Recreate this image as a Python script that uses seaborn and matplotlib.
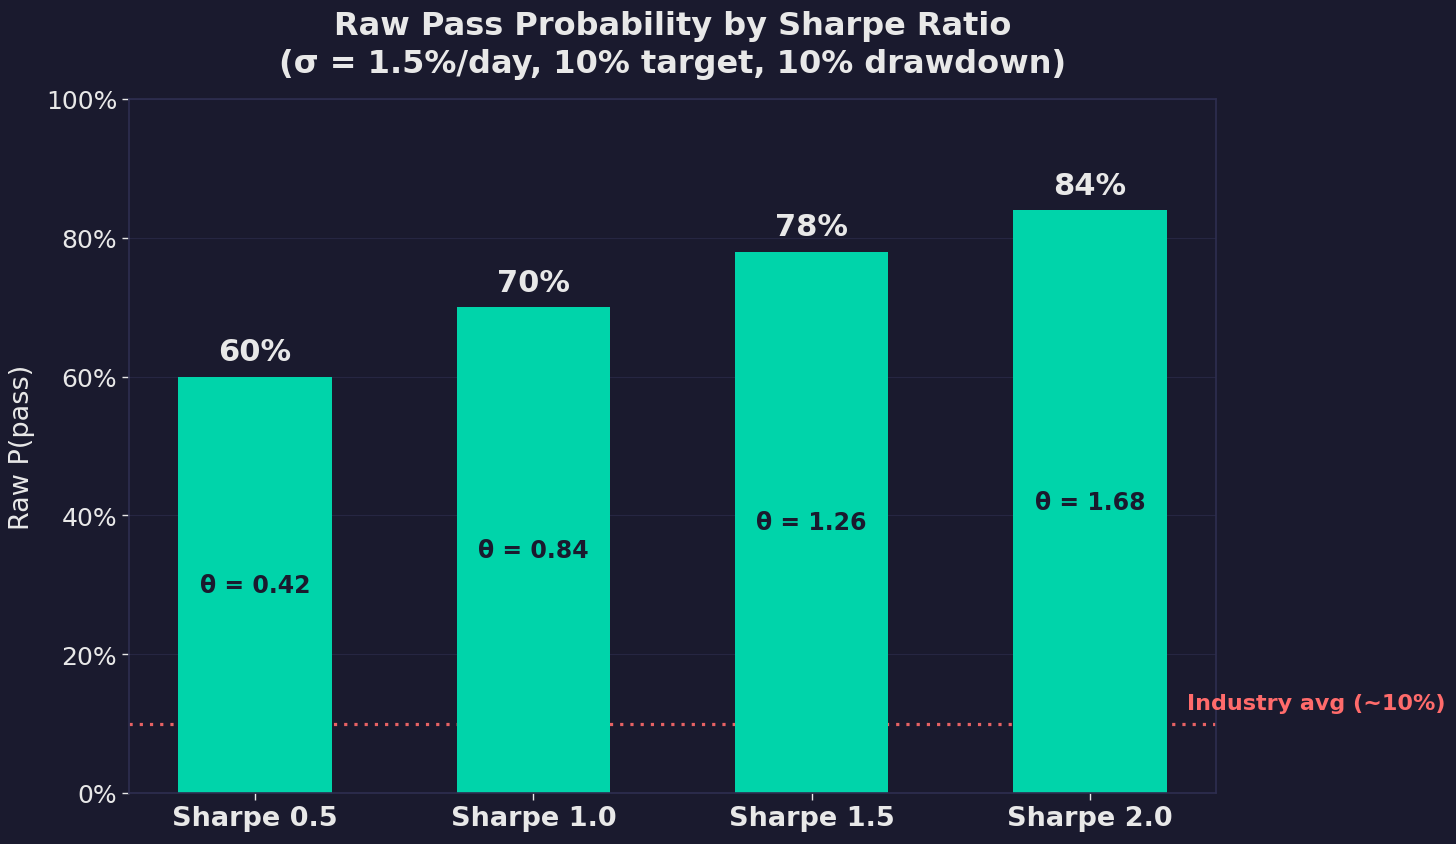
import matplotlib
matplotlib.use("Agg")
import matplotlib.pyplot as plt
import seaborn as sns
import pandas as pd
from matplotlib.ticker import PercentFormatter

categories = ["Sharpe 0.5", "Sharpe 1.0", "Sharpe 1.5", "Sharpe 2.0"]
pass_prob = [60, 70, 78, 84]
theta = [0.42, 0.84, 1.26, 1.68]
industry_avg = 10

BG = "#1a1a2e"
BAR = "#00d4aa"
TXT = "#e8e8e8"
RED = "#ff6b6b"
SPINE = "#2e2e50"

sns.set_theme(style="dark")
plt.rcParams['font.family'] = ['DejaVu Sans']

df = pd.DataFrame({"cat": categories, "p": pass_prob})

fig = plt.figure(figsize=(14.56, 8.45), dpi=100, facecolor=BG)
ax = fig.add_axes([129/1456, 1 - 794/845, (1216-129)/1456, (794-100)/845])
ax.set_facecolor(BG)

ax.axhline(industry_avg, color=RED, linestyle=(0, (1, 2.2)), linewidth=2.3, zorder=1, alpha=0.9)
sns.barplot(data=df, x="cat", y="p", color=BAR, saturation=1, width=0.55, ax=ax, zorder=2,
            edgecolor=BAR, linewidth=0)
ax.set_xlim(-0.4525, 3.4525)

for i, (p, t) in enumerate(zip(pass_prob, theta)):
    ax.text(i, p + 1.5, f"{p}%", ha="center", va="bottom", fontsize=22, fontweight="bold", color=TXT, zorder=3)
    ax.text(i, p / 2, f"θ = {t:.2f}", ha="center", va="center", fontsize=17, fontweight="bold", color="#1a1a2e", zorder=3)

ax.text(3.35, industry_avg + 1.5, "Industry avg (~10%)", ha="left", va="bottom", fontsize=16,
        fontweight="bold", color=RED, clip_on=False, zorder=4)

ax.set_ylim(0, 100)
ax.yaxis.set_major_formatter(PercentFormatter(decimals=0))
ax.set_yticks([0, 20, 40, 60, 80, 100])
ax.grid(axis="y", color="#2a2a48", linewidth=0.8, alpha=0.8)
ax.grid(axis="x", visible=False)
ax.set_axisbelow(True)

ax.set_xlabel("")
ax.set_ylabel("Raw P(pass)", fontsize=19.5, color=TXT, labelpad=8)
ax.tick_params(axis="y", colors=TXT, labelsize=18, length=5, width=1, left=True)
ax.tick_params(axis="x", colors=TXT, labelsize=19.5, length=5, width=1, bottom=True)
for lbl in ax.get_xticklabels():
    lbl.set_fontweight("bold")
for s in ax.spines.values():
    s.set_visible(True)
    s.set_color(SPINE)
    s.set_linewidth(1.2)

fig.suptitle("Raw Pass Probability by Sharpe Ratio\n(σ = 1.5%/day, 10% target, 10% drawdown)",
             fontsize=23, fontweight="bold", color=TXT, x=672.5/1456, y=0.987, linespacing=1.3)

fig.savefig("out.png", dpi=100, facecolor=BG)
